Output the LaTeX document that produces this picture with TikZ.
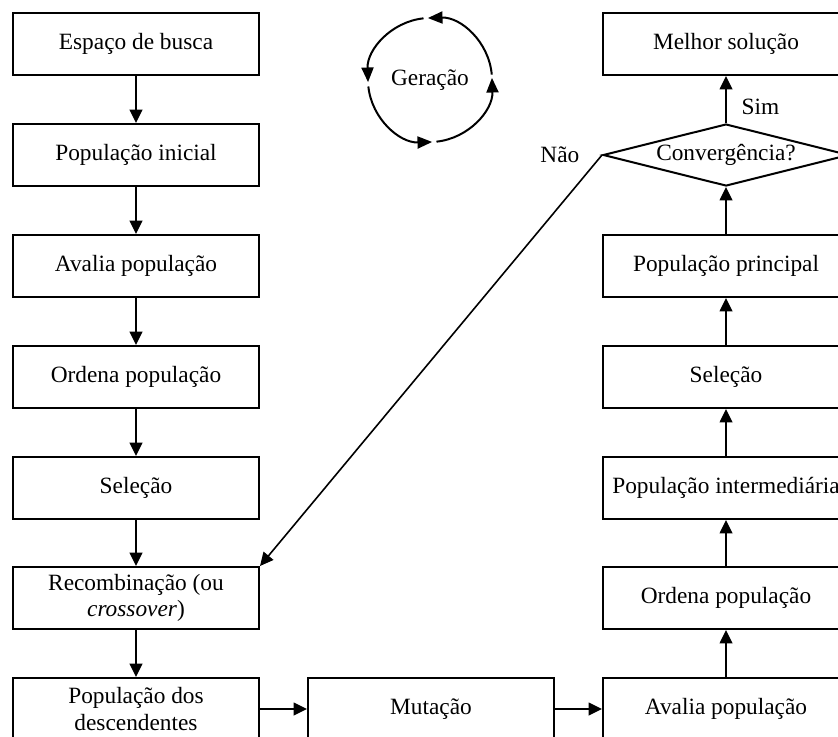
\documentclass[tikz,border=0pt]{standalone}
\usepackage{fontspec}
\setmainfont{Liberation Serif}
\usetikzlibrary{shapes.geometric,arrows.meta}

\tikzset{
  procbox/.style={draw, rectangle, line width=1.5, minimum width=184.5pt, minimum height=46.5pt, inner sep=0pt, align=center, font=\fontsize{17.5}{20}\selectfont},
  decbox/.style={draw, diamond, aspect=4, line width=1.5, minimum width=184.5pt, minimum height=46.5pt, inner sep=0pt, font=\fontsize{17.5}{20}\selectfont},
  flowarrow/.style={line width=1.2, -{Triangle[length=10pt,width=9.5pt]}},
  cycarrow/.style={line width=1.5, -{Triangle[length=11pt,width=9pt]}},
  lbl/.style={font=\fontsize{17.5}{20}\selectfont}
}

\begin{document}
\begin{tikzpicture}[x=0.75pt,y=0.75pt,yscale=-1,xscale=1]
\path[fill=white,use as bounding box] (0,0) rectangle (838,736);
%Flowchart: Process (left column)
\node[procbox] (espaco) at (136,44) {Espaço de busca};
\node[procbox] (popini) at (136,155) {População inicial};
\node[procbox] (avalia) at (136,266) {Avalia população};
\node[procbox] (ordena) at (136,377) {Ordena população};
\node[procbox] (selecao) at (136,488) {Seleção};
\node[procbox] (recomb) at (136,598) {Recombinação (ou\\\textit{crossover})};
\node[procbox] (popdesc) at (136,709) {População dos\\descendentes};
%Flowchart: Process (bottom row)
\node[procbox] (mutacao) at (431,709) {Mutação};
%Flowchart: Process (right column)
\node[procbox] (avaliab) at (726,709) {Avalia população};
\node[procbox] (ordenab) at (726,598) {Ordena população};
\node[procbox] (popint) at (726,488) {População intermediária};
\node[procbox] (selecaob) at (726,377) {Seleção};
\node[procbox] (popprin) at (726,266) {População principal};
%Flowchart: Decision
\node[decbox] (conv) at (726,155) {Convergência?};
\node[procbox] (melhor) at (726,44) {Melhor solução};
%Text Node
\node[lbl, anchor=east] (nao) at (584,155) {Não};
\node[lbl, anchor=west] (sim) at (737,107) {Sim};
\node[lbl] (geracao) at (430,80) {Geração};

%Straight Lines
\draw[flowarrow] (espaco) -- (popini);
\draw[flowarrow] (popini) -- (avalia);
\draw[flowarrow] (avalia) -- (ordena);
\draw[flowarrow] (ordena) -- (selecao);
\draw[flowarrow] (selecao) -- (recomb);
\draw[flowarrow] (recomb) -- (popdesc);
\draw[flowarrow] (popdesc) -- (mutacao);
\draw[flowarrow] (mutacao) -- (avaliab);
\draw[flowarrow] (avaliab) -- (ordenab);
\draw[flowarrow] (ordenab) -- (popint);
\draw[flowarrow] (popint) -- (selecaob);
\draw[flowarrow] (selecaob) -- (popprin);
\draw[flowarrow] (popprin) -- (conv);
\draw[flowarrow] (conv) -- (melhor);
\draw[flowarrow] (conv.west) -- (recomb.north east);

%Curve Lines
\draw[cycarrow] (geracao.center) ++(-5:46.5pt) arc[start angle=-5, end angle=-92, radius=46.5pt];
\draw[cycarrow] (geracao.center) ++(-96:46.5pt) arc[start angle=-96, end angle=-182, radius=46.5pt];
\draw[cycarrow] (geracao.center) ++(-186:46.5pt) arc[start angle=-186, end angle=-272, radius=46.5pt];
\draw[cycarrow] (geracao.center) ++(-276:46.5pt) arc[start angle=-276, end angle=-362, radius=46.5pt];
\end{tikzpicture}
\end{document}
